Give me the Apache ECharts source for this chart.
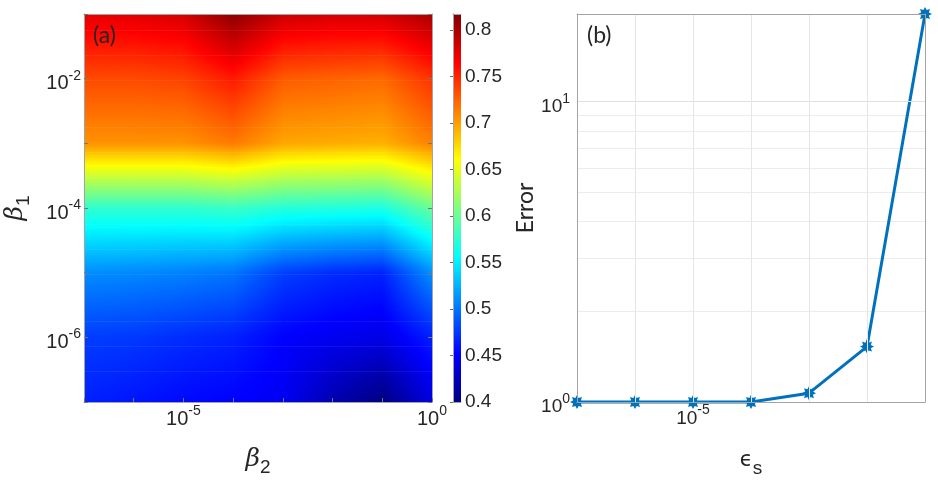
<!DOCTYPE html>
<html>
<head>
<meta charset="utf-8">
<title>beta map and error</title>
<script src="https://cdn.jsdelivr.net/npm/echarts@6/dist/echarts.min.js"></script>
<style>
    html, body { margin: 0; padding: 0; background: #fff; }
    #main { width: 938px; height: 482px; }
</style>
</head>
<body>
<div id="main"></div>
<script>
// (a) 网格: 列 = β2, 行 = β1 (从上到下)
var beta2 = [1e-7, 1e-6, 1e-5, 1e-4, 1e-3, 1e-2, 1e-1, 1e0];
var beta1 = [1e-1, 1e-2, 1e-3, 1e-4, 1e-5, 1e-6, 1e-7];
var mapValues = [
    [0.775, 0.777, 0.782, 0.812, 0.786, 0.782, 0.783, 0.800],
    [0.735, 0.735, 0.738, 0.755, 0.728, 0.725, 0.722, 0.745],
    [0.705, 0.705, 0.705, 0.715, 0.697, 0.695, 0.693, 0.712],
    [0.576, 0.576, 0.576, 0.580, 0.572, 0.570, 0.568, 0.600],
    [0.510, 0.508, 0.505, 0.500, 0.478, 0.470, 0.466, 0.512],
    [0.477, 0.475, 0.470, 0.465, 0.452, 0.446, 0.442, 0.465],
    [0.465, 0.460, 0.455, 0.452, 0.447, 0.420, 0.400, 0.440]
];
var colorbarRange = [0.4, 0.817];
var colorbarStep = 0.05;

// (b) 误差曲线
var epsS = [1e-7, 1e-6, 1e-5, 1e-4, 1e-3, 1e-2, 1e-1];
var errorValues = [1, 1, 1, 1, 1.07, 1.53, 19.6];
var errorRange = [1, 19.6];
var errorMinorGrid = [2, 3, 4, 5, 6, 7, 8, 9];

// 标签只显示这些指数
var beta2Exps = [-5, 0];
var beta1Exps = [-2, -4, -6];
var epsExps = [-5];
var errorExps = [0, 1];

var FONT = 'Liberation Sans, Arial, sans-serif';
var TXT = '#262626';
var BOX = '#a3a3a3';

function clamp01(x) { return Math.max(0, Math.min(1, x)); }
// MATLAB jet
function jet(v) {
    var t = clamp01((v - colorbarRange[0]) / (colorbarRange[1] - colorbarRange[0]));
    var r = clamp01(1.5 - Math.abs(4 * t - 3));
    var g = clamp01(1.5 - Math.abs(4 * t - 2));
    var b = clamp01(1.5 - Math.abs(4 * t - 1));
    return 'rgb(' + Math.round(r * 255) + ',' + Math.round(g * 255) + ',' + Math.round(b * 255) + ')';
}

// 10^n 上标标签
function powLabel(exps, size, supSize) {
    return {
        fontFamily: FONT,
        color: TXT,
        formatter: function (v) {
            var lg = Math.log(v) / Math.LN10;
            var e = Math.round(lg);
            if (Math.abs(lg - e) > 1e-6) return '';
            if (exps.indexOf(e) < 0) return '';
            return '{b|10}{sup|' + e + '}';
        },
        rich: {
            b: {fontSize: size, lineHeight: size, padding: [10, 0, 0, 0], verticalAlign: 'middle', fontFamily: FONT, color: TXT},
            sup: {fontSize: supSize, lineHeight: supSize, padding: [0, 0, 6, 0], verticalAlign: 'middle', fontFamily: FONT, color: TXT}
        }
    };
}

// 下标名称
function subName(mainSize, mainFont, italic) {
    return {
        rich: {
            b: {fontSize: mainSize, lineHeight: mainSize, verticalAlign: 'middle', fontStyle: italic ? 'italic' : 'normal', fontFamily: mainFont, color: TXT},
            s: {fontSize: 19, lineHeight: 19, padding: [16, 0, 0, 0], verticalAlign: 'middle', fontFamily: FONT, color: TXT}
        }
    };
}

function boxAxis(grid, type, pos, min, max) {
    return {
        gridIndex: grid, type: type, position: pos, min: min, max: max, z: 10,
        axisLine: {show: true, lineStyle: {color: BOX, width: 1}},
        axisTick: {show: false},
        axisLabel: {show: false},
        splitLine: {show: false}
    };
}

// 热图单元格
var cells = [];
for (var i = 0; i < beta1.length - 1; i++) {
    for (var j = 0; j < beta2.length - 1; j++) {
        cells.push([beta2[j], beta2[j + 1], beta1[i], beta1[i + 1],
            mapValues[i][j], mapValues[i][j + 1], mapValues[i + 1][j], mapValues[i + 1][j + 1]]);
    }
}

function renderCell(params, api) {
    var pA = api.coord([api.value(0), api.value(2)]);
    var pB = api.coord([api.value(1), api.value(3)]);
    var vTL = api.value(4), vTR = api.value(5), vBL = api.value(6), vBR = api.value(7);
    var x0 = Math.min(pA[0], pB[0]), w = Math.abs(pB[0] - pA[0]);
    var y0 = Math.min(pA[1], pB[1]), h = Math.abs(pB[1] - pA[1]);
    var n = Math.max(1, Math.ceil(h / 1.5));
    var children = [];
    for (var k = 0; k < n; k++) {
        var s = (k + 0.5) / n;
        var vl = vTL + (vBL - vTL) * s;
        var vr = vTR + (vBR - vTR) * s;
        var stops = [];
        for (var q = 0; q <= 8; q++) {
            stops.push({offset: q / 8, color: jet(vl + (vr - vl) * q / 8)});
        }
        children.push({
            type: 'rect',
            silent: true,
            shape: {x: x0, y: y0 + h * k / n, width: w + 0.7, height: h / n + 0.7},
            style: {fill: new echarts.graphic.LinearGradient(0, 0, 1, 0, stops)}
        });
    }
    return {type: 'group', children: children};
}

function renderColorbar(params, api) {
    var pA = api.coord([api.value(0), api.value(1)]);
    var pB = api.coord([api.value(2), api.value(3)]);
    var span = colorbarRange[1] - colorbarRange[0];
    var ts = [1, 0.875, 0.625, 0.375, 0.125, 0];
    var stops = ts.map(function (t) {
        return {offset: 1 - t, color: jet(colorbarRange[0] + t * span)};
    });
    return {
        type: 'rect',
        shape: {x: pA[0], y: pB[1], width: pB[0] - pA[0], height: pA[1] - pB[1]},
        style: {fill: new echarts.graphic.LinearGradient(0, 0, 0, 1, stops)}
    };
}

// 星号标记
var starPts = [];
for (var k = 0; k < 16; k++) {
    var a = k * Math.PI / 8;
    var r = k % 2 ? 3 : 5;
    starPts.push((r * Math.sin(a)).toFixed(2) + ',' + (-r * Math.cos(a)).toFixed(2));
}
var starPath = 'path://M' + starPts.join('L') + 'Z';

var errorData = epsS.map(function (x, idx) { return [x, errorValues[idx]]; });

var chart = echarts.init(document.getElementById('main'));
var option = {
    backgroundColor: '#fff',
    animation: false,
    grid: [
        {left: 84, top: 14, width: 348, height: 388, containLabel: false, outerBoundsMode: 'none'},
        {left: 453, top: 14, width: 8, height: 388, containLabel: false, outerBoundsMode: 'none'},
        {left: 577, top: 14, width: 348, height: 388, containLabel: false, outerBoundsMode: 'none'}
    ],
    xAxis: [
        {
            gridIndex: 0, type: 'log', min: beta2[0], max: beta2[beta2.length - 1], z: 10,
            axisLine: {show: true, lineStyle: {color: BOX}},
            axisTick: {show: true, inside: true, length: 4, lineStyle: {color: '#777'}},
            axisLabel: Object.assign(powLabel(beta2Exps, 20, 14), {margin: 2}),
            splitLine: {show: false},
            name: '{b|β}{s|2}', nameLocation: 'middle', nameGap: 45,
            nameTextStyle: subName(25, 'DejaVu Serif', true)
        },
        boxAxis(0, 'log', 'top', beta2[0], beta2[beta2.length - 1]),
        boxAxis(1, 'value', 'bottom', 0, 1),
        boxAxis(1, 'value', 'top', 0, 1),
        {
            gridIndex: 2, type: 'log', min: epsS[0], max: epsS[epsS.length - 1], z: 10,
            axisLine: {show: true, lineStyle: {color: BOX}},
            axisTick: {show: false},
            axisLabel: Object.assign(powLabel(epsExps, 19, 14), {margin: 2}),
            splitLine: {show: true, lineStyle: {color: '#e6e6e6', width: 1}},
            name: '{b|ϵ}{s|s}', nameLocation: 'middle', nameGap: 48,
            nameTextStyle: subName(21, 'DejaVu Sans', false)
        },
        boxAxis(2, 'log', 'top', epsS[0], epsS[epsS.length - 1])
    ],
    yAxis: [
        {
            gridIndex: 0, type: 'log', min: beta1[beta1.length - 1], max: beta1[0], z: 10,
            axisLine: {show: true, lineStyle: {color: BOX}},
            axisTick: {show: true, inside: true, length: 4, lineStyle: {color: '#777'}},
            axisLabel: Object.assign(powLabel(beta1Exps, 20, 14), {margin: 3}),
            splitLine: {show: false},
            name: '{b|β}{s|1}', nameLocation: 'middle', nameGap: 56,
            nameTextStyle: subName(25, 'DejaVu Serif', true)
        },
        Object.assign(boxAxis(0, 'log', 'right', beta1[beta1.length - 1], beta1[0]), {
            axisTick: {show: true, inside: true, length: 4, lineStyle: {color: '#777'}}
        }),
        {
            gridIndex: 1, type: 'value', position: 'right',
            min: colorbarRange[0], max: colorbarRange[1], interval: colorbarStep, z: 10,
            axisLine: {show: true, lineStyle: {color: BOX}},
            axisTick: {show: true, inside: true, length: 3, lineStyle: {color: '#666'}},
            axisLabel: {
                fontFamily: FONT, fontSize: 19, color: TXT, margin: 4, showMaxLabel: false,
                formatter: function (v) { return String(+v.toFixed(2)); }
            },
            splitLine: {show: false}
        },
        boxAxis(1, 'value', 'left', colorbarRange[0], colorbarRange[1]),
        {
            gridIndex: 2, type: 'log', min: errorRange[0], max: errorRange[1], z: 10,
            axisLine: {show: true, lineStyle: {color: BOX}},
            axisTick: {show: false},
            axisLabel: Object.assign(powLabel(errorExps, 19, 14), {margin: 7, showMaxLabel: false}),
            splitLine: {show: true, lineStyle: {color: '#e0e0e0', width: 1}},
            name: 'Error', nameLocation: 'middle', nameGap: 38,
            nameTextStyle: {fontFamily: 'Lato, Open Sans, sans-serif', fontSize: 23, color: TXT}
        },
        boxAxis(2, 'log', 'right', errorRange[0], errorRange[1])
    ],
    graphic: [
        {type: 'text', left: 93, top: 24, style: {text: '(a)', font: '23px Lato, "Open Sans", sans-serif', fill: TXT}, z: 20},
        {type: 'text', left: 587, top: 24, style: {text: '(b)', font: '23px Lato, "Open Sans", sans-serif', fill: TXT}, z: 20}
    ],
    series: [
        {
            type: 'custom',
            name: 'map',
            xAxisIndex: 0, yAxisIndex: 0,
            renderItem: renderCell,
            dimensions: ['x0', 'x1', 'y0', 'y1', 'vTL', 'vTR', 'vBL', 'vBR'],
            encode: {x: [0, 1], y: [2, 3]},
            data: cells,
            clip: true,
            silent: true,
            z: 1
        },
        {
            type: 'custom',
            name: 'colorbar',
            xAxisIndex: 2, yAxisIndex: 2,
            renderItem: renderColorbar,
            encode: {x: [0, 2], y: [1, 3]},
            data: [[0, colorbarRange[0], 1, colorbarRange[1]]],
            silent: true,
            z: 1
        },
        {
            type: 'line',
            name: 'minorGrid',
            xAxisIndex: 4, yAxisIndex: 4,
            data: [],
            z: 1,
            silent: true,
            markLine: {
                silent: true,
                symbol: ['none', 'none'],
                label: {show: false},
                lineStyle: {color: '#ececec', width: 1, type: 'solid'},
                data: errorMinorGrid.map(function (v) { return {yAxis: v}; })
            }
        },
        {
            type: 'line',
            name: 'Error',
            xAxisIndex: 4, yAxisIndex: 4,
            data: errorData,
            clip: false,
            z: 5,
            symbol: starPath,
            symbolSize: 14,
            showAllSymbol: true,
            lineStyle: {color: '#0072BD', width: 3},
            itemStyle: {color: '#0072BD'}
        }
    ]
};
chart.setOption(option);
</script>
</body>
</html>
